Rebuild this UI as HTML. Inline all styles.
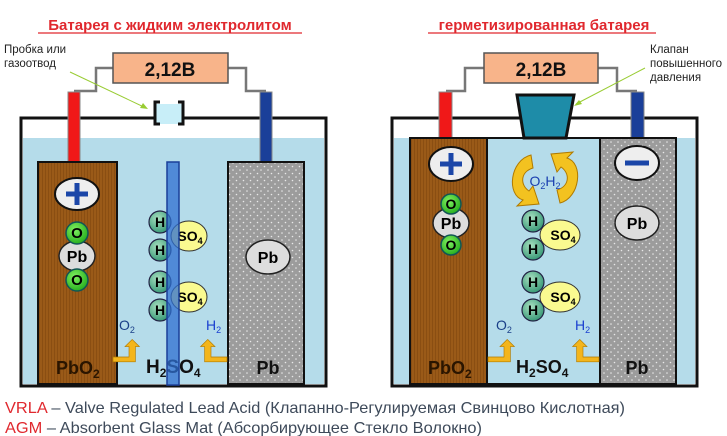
<!DOCTYPE html>
<html><head><meta charset="utf-8"><style>
html,body{margin:0;padding:0;background:#fff;width:727px;height:436px;overflow:hidden}
svg{display:block}
text{font-family:"Liberation Sans",Arial,sans-serif}
</style></head><body>
<svg width="727" height="436" viewBox="0 0 727 436" xmlns="http://www.w3.org/2000/svg">
<defs>
<pattern id="br" width="3" height="3" patternUnits="userSpaceOnUse"><rect width="3" height="3" fill="#9a5a18"/><rect width="1" height="3" fill="#8a4e12"/></pattern>
<pattern id="gr" width="7" height="7" patternUnits="userSpaceOnUse"><rect width="7" height="7" fill="#9c9c9c"/><circle cx="2" cy="2" r="0.8" fill="#e8e8e8"/><circle cx="5.5" cy="5.5" r="0.8" fill="#e8e8e8"/></pattern>
<radialGradient id="hg" cx="40%" cy="35%" r="65%"><stop offset="0" stop-color="#a8e0c0"/><stop offset="1" stop-color="#3a9a78"/></radialGradient>
<radialGradient id="og" cx="40%" cy="35%" r="65%"><stop offset="0" stop-color="#80f060"/><stop offset="1" stop-color="#28b020"/></radialGradient>
<g id="arrUp"><path d="M0 0 h20 v-13 h-5 l9 -9 l9 9 h-5 v19 h-28 z" fill="#f3b51c" stroke="#b07a00" stroke-width="0.8"/></g>
</defs>

<text x="170" y="30" font-size="15" font-weight="bold" fill="#e0282e" text-anchor="middle">Батарея с жидким электролитом</text>
<line x1="38" y1="33" x2="302" y2="33" stroke="#e0282e" stroke-width="1.3"/>
<text x="544" y="30" font-size="15" font-weight="bold" fill="#e0282e" text-anchor="middle">герметизированная батарея</text>
<line x1="428" y1="33" x2="656" y2="33" stroke="#e0282e" stroke-width="1.3"/>

<!-- LEFT CELL -->
<rect x="21" y="118" width="305" height="268" fill="#fff" stroke="#111" stroke-width="3"/>
<rect x="23" y="138" width="301" height="246" fill="#b5dcea"/>
<polyline points="113,68 96,68 96,91 74,91" fill="none" stroke="#777" stroke-width="2.5"/>
<polyline points="228,68 246,68 246,91 266,91" fill="none" stroke="#777" stroke-width="2.5"/>
<rect x="113" y="53" width="115" height="30" fill="#f8b48a" stroke="#555" stroke-width="1.5"/>
<text x="170" y="76" font-size="19" font-weight="bold" text-anchor="middle" fill="#111">2,12В</text>
<rect x="68" y="92" width="12" height="72" fill="#f01818" stroke="#888" stroke-width="1"/>
<rect x="260" y="92" width="12" height="72" fill="#1a3f99" stroke="#888" stroke-width="1"/>
<rect x="156" y="104" width="26" height="20" fill="#c8eef8"/>
<path d="M160 102 h-5 v22 h5 M178 102 h5 v22 h-5" fill="none" stroke="#111" stroke-width="3"/>
<text x="4" y="53" font-size="11.5" fill="#222">Пробка или</text>
<text x="4" y="67" font-size="11.5" fill="#222">газоотвод</text>
<line x1="70" y1="72" x2="146" y2="108" stroke="#9c3" stroke-width="1"/>
<path d="M148 109 l-8 -1 l3 -5 z" fill="#9c3"/>
<rect x="38" y="162" width="79" height="222" fill="url(#br)" stroke="#111" stroke-width="2"/>
<rect x="228" y="162" width="76" height="222" fill="url(#gr)" stroke="#111" stroke-width="2"/>
<ellipse cx="77" cy="194" rx="22" ry="16" fill="#eee" stroke="#111" stroke-width="2"/>
<path d="M77 183 v22 M66 194 h22" stroke="#1b46a8" stroke-width="5"/>
<ellipse cx="77" cy="256" rx="18" ry="15" fill="#ddd" stroke="#222" stroke-width="1.5"/>
<circle cx="77" cy="233" r="11" fill="url(#og)" stroke="#155" stroke-width="1.5"/>
<circle cx="77" cy="280" r="11" fill="url(#og)" stroke="#155" stroke-width="1.5"/>
<text x="77" y="238" font-size="15" font-weight="bold" text-anchor="middle">O</text>
<text x="77" y="262" font-size="16" font-weight="bold" text-anchor="middle">Pb</text>
<text x="77" y="285" font-size="15" font-weight="bold" text-anchor="middle">O</text>
<ellipse cx="268" cy="257" rx="22" ry="17" fill="#ddd" stroke="#222" stroke-width="1.5"/>
<text x="268" y="263" font-size="16" font-weight="bold" text-anchor="middle">Pb</text>
<ellipse cx="189" cy="236" rx="18" ry="15" fill="#fafa90" stroke="#333" stroke-width="1"/>
<ellipse cx="189" cy="297" rx="18" ry="15" fill="#fafa90" stroke="#333" stroke-width="1"/>
<text x="190" y="241" font-size="14" font-weight="bold" text-anchor="middle">SO<tspan font-size="9" dy="3">4</tspan></text>
<text x="190" y="302" font-size="14" font-weight="bold" text-anchor="middle">SO<tspan font-size="9" dy="3">4</tspan></text>
<g stroke="#224" stroke-width="1.2" fill="url(#hg)">
<circle cx="160" cy="222" r="11"/><circle cx="160" cy="250" r="11"/><circle cx="160" cy="282" r="11"/><circle cx="160" cy="310" r="11"/></g>
<g font-size="14" font-weight="bold" text-anchor="middle"><text x="160" y="227">H</text><text x="160" y="255">H</text><text x="160" y="287">H</text><text x="160" y="315">H</text></g>
<text x="146" y="373" font-size="19" font-weight="bold" fill="#111">H<tspan font-size="12" dy="4">2</tspan><tspan dy="-4">SO</tspan><tspan font-size="12" dy="4">4</tspan></text>
<rect x="167" y="162" width="12" height="223" fill="#2f6fd0" fill-opacity="0.75" stroke="#1a3f99" stroke-width="1.5"/>
<text x="56" y="374" font-size="18" font-weight="bold" fill="#2a1500">PbO<tspan font-size="12" dy="4">2</tspan></text>
<text x="268" y="374" font-size="18" font-weight="bold" text-anchor="middle" fill="#111">Pb</text>
<text x="119" y="330" font-size="14" fill="#1a3f88">O<tspan font-size="9" dy="3">2</tspan></text>
<text x="206" y="330" font-size="14" fill="#1a3fd0">H<tspan font-size="9" dy="3">2</tspan></text>
<use href="#arrUp" transform="translate(113,357) scale(0.8)"/>
<use href="#arrUp" transform="translate(227,357) scale(-0.8,0.8)"/>

<!-- RIGHT CELL -->
<rect x="392" y="118" width="305" height="268" fill="#fff" stroke="#111" stroke-width="3"/>
<rect x="394" y="138" width="301" height="246" fill="#b5dcea"/>
<polyline points="484,68 465,68 465,91 446,91" fill="none" stroke="#777" stroke-width="2.5"/>
<polyline points="598,68 617,68 617,91 637,91" fill="none" stroke="#777" stroke-width="2.5"/>
<rect x="484" y="53" width="114" height="30" fill="#f8b48a" stroke="#555" stroke-width="1.5"/>
<text x="541" y="76" font-size="19" font-weight="bold" text-anchor="middle" fill="#111">2,12В</text>
<rect x="439" y="92" width="13" height="47" fill="#f01818" stroke="#888" stroke-width="1"/>
<rect x="631" y="92" width="13" height="47" fill="#1a3f99" stroke="#888" stroke-width="1"/>
<polygon points="517,95 574,95 566,138 524,138" fill="#1e8ca8" stroke="#111" stroke-width="3"/>
<text x="650" y="53" font-size="11.5" fill="#222">Клапан</text>
<text x="650" y="67" font-size="11.5" fill="#222">повышенного</text>
<text x="650" y="81" font-size="11.5" fill="#222">давления</text>
<line x1="645" y1="68" x2="576" y2="104" stroke="#9c3" stroke-width="1"/>
<path d="M574 106 l5 -6 l3 4 z" fill="#9c3"/>
<rect x="410" y="138" width="266" height="246" fill="none" stroke="#111" stroke-width="2"/>
<rect x="410" y="138" width="77" height="246" fill="url(#br)" stroke="#111" stroke-width="2"/>
<rect x="600" y="138" width="76" height="246" fill="url(#gr)" stroke="#111" stroke-width="2"/>
<ellipse cx="451" cy="164" rx="22" ry="17" fill="#eee" stroke="#111" stroke-width="2"/>
<path d="M451 153 v22 M440 164 h22" stroke="#1b46a8" stroke-width="5"/>
<ellipse cx="637" cy="163" rx="22" ry="17" fill="#eee" stroke="#111" stroke-width="2"/>
<path d="M625 163 h24" stroke="#1b46a8" stroke-width="5"/>
<ellipse cx="451" cy="223" rx="18" ry="15" fill="#ddd" stroke="#222" stroke-width="1.5"/>
<circle cx="451" cy="204" r="10" fill="url(#og)" stroke="#155" stroke-width="1.5"/>
<circle cx="451" cy="245" r="10" fill="url(#og)" stroke="#155" stroke-width="1.5"/>
<text x="451" y="209" font-size="14" font-weight="bold" text-anchor="middle">O</text>
<text x="451" y="229" font-size="16" font-weight="bold" text-anchor="middle">Pb</text>
<text x="451" y="250" font-size="14" font-weight="bold" text-anchor="middle">O</text>
<ellipse cx="637" cy="223" rx="22" ry="17" fill="#ddd" stroke="#222" stroke-width="1.5"/>
<text x="637" y="229" font-size="16" font-weight="bold" text-anchor="middle">Pb</text>
<path d="M531 155 C510 160 506 195 523 200 l-6 6 l22 -2 l-6 -18 l-4 5 C520 185 520 172 533 168 z" fill="#f3c220" stroke="#b07a00" stroke-width="1"/>
<path d="M560 203 C580 198 584 163 567 158 l6 -6 l-22 2 l6 18 l4 -5 C570 173 570 186 557 190 z" fill="#f3c220" stroke="#b07a00" stroke-width="1"/>
<text x="545" y="186" font-size="14" fill="#1a3fb0" text-anchor="middle">O<tspan font-size="9" dy="3">2</tspan><tspan dy="-3">H</tspan><tspan font-size="9" dy="3">2</tspan></text>
<ellipse cx="560" cy="235" rx="20" ry="15" fill="#fafa90" stroke="#333" stroke-width="1"/>
<ellipse cx="560" cy="297" rx="20" ry="15" fill="#fafa90" stroke="#333" stroke-width="1"/>
<text x="563" y="240" font-size="14" font-weight="bold" text-anchor="middle">SO<tspan font-size="9" dy="3">4</tspan></text>
<text x="563" y="302" font-size="14" font-weight="bold" text-anchor="middle">SO<tspan font-size="9" dy="3">4</tspan></text>
<g stroke="#224" stroke-width="1.2" fill="url(#hg)">
<circle cx="533" cy="221" r="11"/><circle cx="533" cy="249" r="11"/><circle cx="533" cy="282" r="11"/><circle cx="533" cy="310" r="11"/></g>
<g font-size="14" font-weight="bold" text-anchor="middle"><text x="533" y="226">H</text><text x="533" y="254">H</text><text x="533" y="287">H</text><text x="533" y="315">H</text></g>
<text x="516" y="373" font-size="18" font-weight="bold" fill="#111">H<tspan font-size="12" dy="4">2</tspan><tspan dy="-4">SO</tspan><tspan font-size="12" dy="4">4</tspan></text>
<text x="428" y="374" font-size="18" font-weight="bold" fill="#2a1500">PbO<tspan font-size="12" dy="4">2</tspan></text>
<text x="637" y="374" font-size="18" font-weight="bold" text-anchor="middle" fill="#111">Pb</text>
<text x="496" y="330" font-size="14" fill="#1a3f88">O<tspan font-size="9" dy="3">2</tspan></text>
<text x="575" y="330" font-size="14" fill="#1a3fd0">H<tspan font-size="9" dy="3">2</tspan></text>
<use href="#arrUp" transform="translate(488,357) scale(0.8)"/>
<use href="#arrUp" transform="translate(599,357) scale(-0.8,0.8)"/>

<text x="5" y="413" font-size="16" fill="#3e4a5a" textLength="620" lengthAdjust="spacingAndGlyphs"><tspan fill="#e0282e">VRLA</tspan> – Valve Regulated Lead Acid (Клапанно-Регулируемая Свинцово Кислотная)</text>
<text x="5" y="433" font-size="16" fill="#3e4a5a" textLength="477" lengthAdjust="spacingAndGlyphs"><tspan fill="#e0282e">AGM</tspan> – Absorbent Glass Mat (Абсорбирующее Стекло Волокно)</text>
</svg>
</body></html>
